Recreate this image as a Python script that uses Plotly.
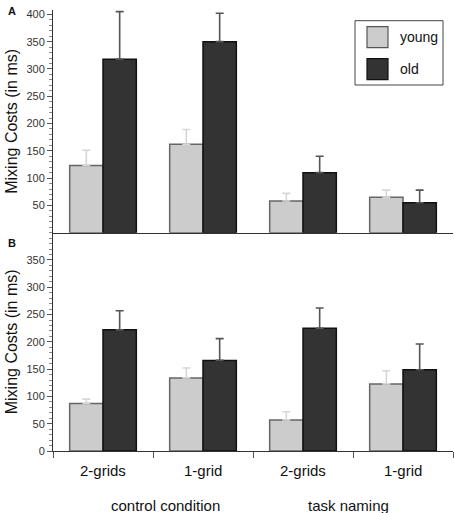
import plotly.graph_objects as go
from plotly.subplots import make_subplots

categories = ["2-grids", "1-grid", "2-grids ", "1-grid "]
tick_labels = ["2-grids", "1-grid", "2-grids", "1-grid"]
group_labels = ["control condition", "task naming"]

# Panel A
a_young = [123, 162, 58, 65]
a_young_err = [151, 189, 72, 78]
a_old = [318, 350, 110, 55]
a_old_err = [405, 402, 140, 78]

# Panel B
b_young = [87, 134, 57, 123]
b_young_err = [95, 152, 72, 147]
b_old = [222, 166, 225, 149]
b_old_err = [257, 206, 262, 196]

YOUNG = "#cccccc"
OLD = "#333333"

fig = make_subplots(rows=2, cols=1, shared_xaxes=False, vertical_spacing=0)


def add_panel(row, young, young_top, old, old_top):
    fig.add_trace(go.Bar(
        x=categories, y=young, name="young", showlegend=False,
        marker=dict(color=YOUNG, line=dict(color="#666666", width=1.5)),
        error_y=dict(type="data", symmetric=False,
                     array=[t - v for t, v in zip(young_top, young)],
                     arrayminus=[0] * len(young),
                     color="#d6d6d6", thickness=1.6, width=4),
    ), row=row, col=1)
    fig.add_trace(go.Bar(
        x=categories, y=old, name="old", showlegend=False,
        marker=dict(color=OLD, line=dict(color="#111111", width=1.5)),
        error_y=dict(type="data", symmetric=False,
                     array=[t - v for t, v in zip(old_top, old)],
                     arrayminus=[0] * len(old),
                     color="#555555", thickness=1.6, width=4),
    ), row=row, col=1)


add_panel(1, a_young, a_young_err, a_old, a_old_err)
add_panel(2, b_young, b_young_err, b_old, b_old_err)

FONT = "Liberation Sans, Arial, sans-serif"
tickfont = dict(family=FONT, size=11, color="#333333")
yaxis_common = dict(
    showline=True, linecolor="#333333", linewidth=1, automargin=False,
    ticks="outside", ticklen=5, tickcolor="#555555", tickwidth=1,
    minor=dict(ticks="outside", ticklen=3, dtick=10, tickcolor="#888888", showgrid=False),
    showgrid=False, zeroline=False, tickfont=tickfont,
    title=dict(text="Mixing Costs (in ms)", font=dict(family=FONT, size=16, color="#111111"), standoff=4),
)

fig.update_layout(
    width=454, height=513,
    margin=dict(l=53, r=1, t=10, b=62, autoexpand=False),
    paper_bgcolor="white", plot_bgcolor="white",
    barmode="group", bargap=1/3, bargroupgap=0,
    font=dict(family=FONT),
    yaxis=dict(domain=[0.495, 1.0], range=[0, 408], tickvals=[50, 100, 150, 200, 250, 300, 350, 400], **yaxis_common),
    yaxis2=dict(domain=[0.0, 0.495], range=[0, 400], tickvals=[0, 50, 100, 150, 200, 250, 300, 350], **yaxis_common),
    xaxis=dict(showline=True, linecolor="#333333", linewidth=1, showticklabels=False, ticks="",
               range=[-0.5, 3.5], showgrid=False, automargin=False),
    xaxis2=dict(showline=True, linecolor="#333333", linewidth=1, ticks="outside", ticklen=6,
                tickcolor="#555555", tickmode="array", tickvals=[-0.5, 0.5, 1.5, 2.5, 3.5],
                ticktext=["", "", "", "", ""], range=[-0.5, 3.5], showgrid=False, automargin=False),
)

# category labels under panel B
for i, lab in enumerate(tick_labels):
    fig.add_annotation(x=categories[i], y=0, xref="x2", yref="paper", yanchor="middle",
                       yshift=-19, text=lab, showarrow=False,
                       font=dict(family=FONT, size=15, color="#111111"))

# group labels
for pos, lab in zip([0.62, 2.45], group_labels):
    fig.add_annotation(x=pos, y=0, xref="x2", yref="paper", yanchor="middle",
                       yshift=-54, text=lab, showarrow=False,
                       font=dict(family=FONT, size=15, color="#111111"))

# panel letters
fig.add_annotation(x=0, y=1, xref="paper", yref="paper", xanchor="left", yanchor="top",
                   xshift=-47, yshift=7, text="<b>A</b>", showarrow=False,
                   font=dict(family=FONT, size=11, color="#111111"))
fig.add_annotation(x=0, y=0.495, xref="paper", yref="paper", xanchor="left", yanchor="top",
                   xshift=-47, yshift=-2, text="<b>B</b>", showarrow=False,
                   font=dict(family=FONT, size=11, color="#111111"))

# legend box (decorative)
fig.add_shape(type="rect", xref="paper", yref="paper",
              x0=(355 - 53) / 400, x1=(443 - 53) / 400,
              y0=(451 - 85) / 441, y1=(451 - 20.7) / 441,
              line=dict(color="#444444", width=1), fillcolor="white")
for j, (name, col, lc) in enumerate([("young", YOUNG, "#555555"), ("old", OLD, "#111111")]):
    ytop = 26.7 + j * 32
    fig.add_shape(type="rect", xref="paper", yref="paper",
                  x0=(367 - 53) / 400, x1=(388 - 53) / 400,
                  y0=(451 - (ytop + 21)) / 441, y1=(451 - ytop) / 441,
                  line=dict(color=lc, width=1.2), fillcolor=col)
    fig.add_annotation(x=(398 - 53) / 400, y=(451 - (ytop + 10.5)) / 441, xref="paper", yref="paper",
                       xanchor="left", yanchor="middle", text=name, showarrow=False,
                       font=dict(family=FONT, size=14, color="#111111"))

fig.write_html("out.html", config={"displayModeBar": False},
               post_script="document.body.style.margin='0';document.body.style.overflow='hidden';")
